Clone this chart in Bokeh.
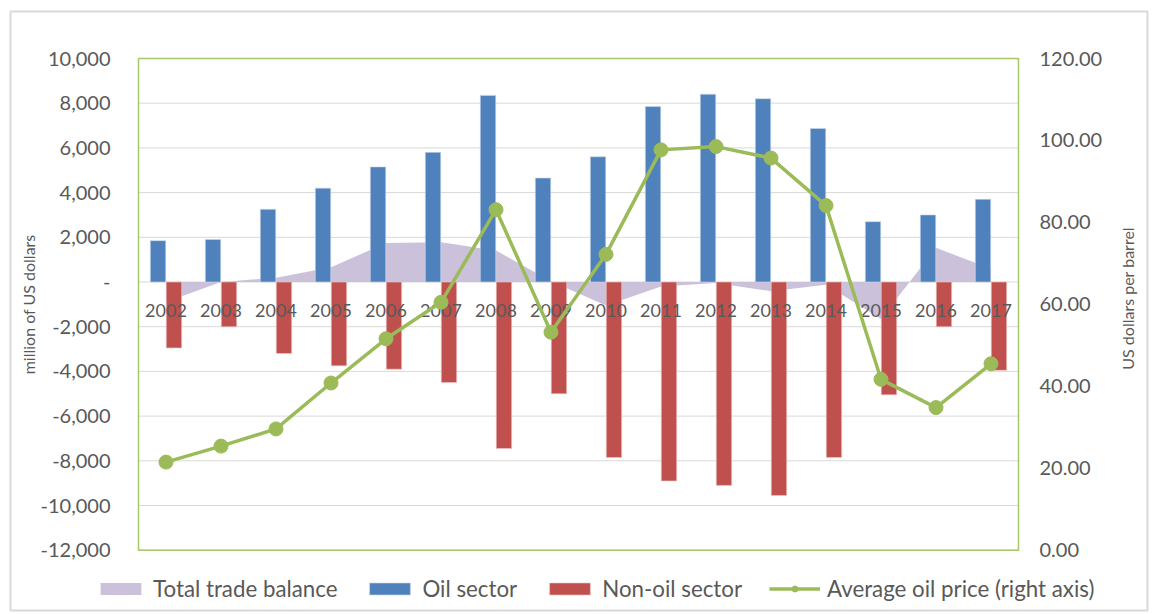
import math
from bokeh.plotting import figure
from bokeh.models import Range1d, Legend, LegendItem, ColumnDataSource
from bokeh.core.properties import value
from bokeh.transform import dodge
from bokeh.embed import file_html
from bokeh.resources import INLINE

years = ["2002", "2003", "2004", "2005", "2006", "2007", "2008", "2009",
         "2010", "2011", "2012", "2013", "2014", "2015", "2016", "2017"]
oil_sector = [1850, 1900, 3250, 4200, 5150, 5800, 8350, 4650,
              5600, 7850, 8400, 8200, 6870, 2700, 3000, 3700]
non_oil_sector = [-2950, -2000, -3200, -3750, -3900, -4500, -7450, -5000,
                  -7850, -8900, -9100, -9550, -7850, -5050, -2000, -3950]
total_trade_balance = [-900, 0, 190, 660, 1740, 1780, 1410, 30,
                       -1050, -200, -50, -410, -120, -1650, 1530, 590]
avg_oil_price = [21.5, 25.4, 29.6, 40.8, 51.6, 60.5, 83.1, 53.2,
                 72.2, 97.7, 98.5, 95.7, 84.1, 41.7, 34.8, 45.5]
left_ticks = [-12000, -10000, -8000, -6000, -4000, -2000, 0,
              2000, 4000, 6000, 8000, 10000]
right_ticks = [0, 20, 40, 60, 80, 100, 120]
left_title = "million of US dollars"
right_title = "US dollars per barrel"

n = len(years)
FONT = "Lato"
TXT = "#595959"

# ---- layout: the frame covers the whole figure; plot area placed in pixels
W, H = 1150, 612
PL, PR, PT, PB = 138, 1018, 58, 549.7
lo, hi = left_ticks[0], left_ticks[-1]
plo, phi = right_ticks[0], right_ticks[-1]
xu = n / (PR - PL)
yu = (hi - lo) / (PB - PT)
pu = (phi - plo) / (PB - PT)
x_start, x_end = -0.5 - PL * xu, -0.5 + (W - PL) * xu
y_start, y_end = hi - (H - PT) * yu, hi + PT * yu
p_start, p_end = phi - (H - PT) * pu, phi + PT * pu


def px_x(px):
    return x_start + px * xu


def px_y(py):
    return y_end - py * yu


src = ColumnDataSource(dict(
    x=list(range(n)), year=years, oil=oil_sector, nonoil=non_oil_sector,
    total=total_trade_balance, price=avg_oil_price, zero=[0] * n))

p = figure(width=W, height=H, output_backend="svg", toolbar_location=None,
           x_range=Range1d(x_start, x_end), y_range=Range1d(y_start, y_end),
           x_axis_location=None, y_axis_location=None,
           min_border=0, min_border_left=0, min_border_right=0,
           min_border_top=0, min_border_bottom=0)
p.extra_y_ranges = {"price": Range1d(p_start, p_end)}
p.background_fill_color = "white"
p.border_fill_color = "white"
p.outline_line_color = None
p.grid.visible = False

# outer chart border
p.quad(left=[px_x(10)], right=[px_x(1147)], top=[px_y(11)], bottom=[px_y(610)],
       fill_color=None, line_color="#D9D9D9", line_width=2)

# horizontal gridlines inside plot area
k = len(left_ticks)
p.segment(x0=[-0.5] * k, x1=[n - 0.5] * k, y0=left_ticks, y1=left_ticks,
          line_color="#D9D9D9", line_width=1)

# plot area border
p.quad(left=[-0.5], right=[n - 0.5], top=[hi], bottom=[lo],
       fill_color=None, line_color="#A8C66C", line_width=1.5)

# left tick labels
p.text(x=[-0.5] * k, y=left_ticks,
       text=[("-" if t == 0 else f"{t:,}") for t in left_ticks],
       x_offset=-28, text_align="right", text_baseline="middle",
       text_font=value(FONT), text_font_size="20px", text_color=TXT)
# right tick labels
m = len(right_ticks)
p.text(x=[n - 0.5] * m, y=right_ticks, y_range_name="price",
       text=[f"{t:.2f}" for t in right_ticks],
       x_offset=21, text_align="left", text_baseline="middle",
       text_font=value(FONT), text_font_size="20px", text_color=TXT)
# axis titles
p.text(x=[px_x(28)], y=[(lo + hi) / 2], text=[left_title], angle=math.pi / 2,
       text_align="center", text_baseline="middle",
       text_font=value(FONT), text_font_size="16px", text_color=TXT)
p.text(x=[px_x(1127)], y=[(plo + phi) / 2], y_range_name="price", y_offset=-6,
       text=[right_title], angle=math.pi / 2,
       text_align="center", text_baseline="middle",
       text_font=value(FONT), text_font_size="16px", text_color=TXT)

area = p.varea(x="x", y1="zero", y2="total", source=src, fill_color="#CCC1DA")
oil = p.vbar(x=dodge("x", -0.145), top="oil", bottom="zero", width=0.28, source=src,
             fill_color="#4F81BD", line_color="#C9D7EA", line_width=0.6)
non = p.vbar(x=dodge("x", 0.145), top="nonoil", bottom="zero", width=0.28, source=src,
             fill_color="#C0504D", line_color="#EBC8C7", line_width=0.6)
p.text(x="x", y="zero", text="year", source=src, text_align="center",
       text_baseline="middle", y_offset=28, text_font=value(FONT),
       text_font_size="18px", text_color=TXT)
line = p.line("x", "price", source=src, y_range_name="price",
              line_color="#9BBB59", line_width=3.5)
dots = p.scatter("x", "price", source=src, y_range_name="price", size=14,
                 fill_color="#9BBB59", line_color="#9BBB59")

legend = Legend(items=[
    LegendItem(label="Total trade balance", renderers=[area]),
    LegendItem(label="Oil sector", renderers=[oil]),
    LegendItem(label="Non-oil sector", renderers=[non]),
    LegendItem(label="Average oil price (right axis)", renderers=[line, dots]),
], orientation="horizontal", location=(95, 10))
legend.label_text_font = FONT
legend.label_text_font_size = "22.3px"
legend.label_text_color = TXT
legend.glyph_width = 51
legend.glyph_height = 15
legend.label_standoff = 7
legend.spacing = 27
legend.padding = 0
legend.margin = 0
legend.border_line_color = None
legend.background_fill_alpha = 0
p.add_layout(legend, "center")

open("out.html", "w").write(file_html(p, INLINE))
